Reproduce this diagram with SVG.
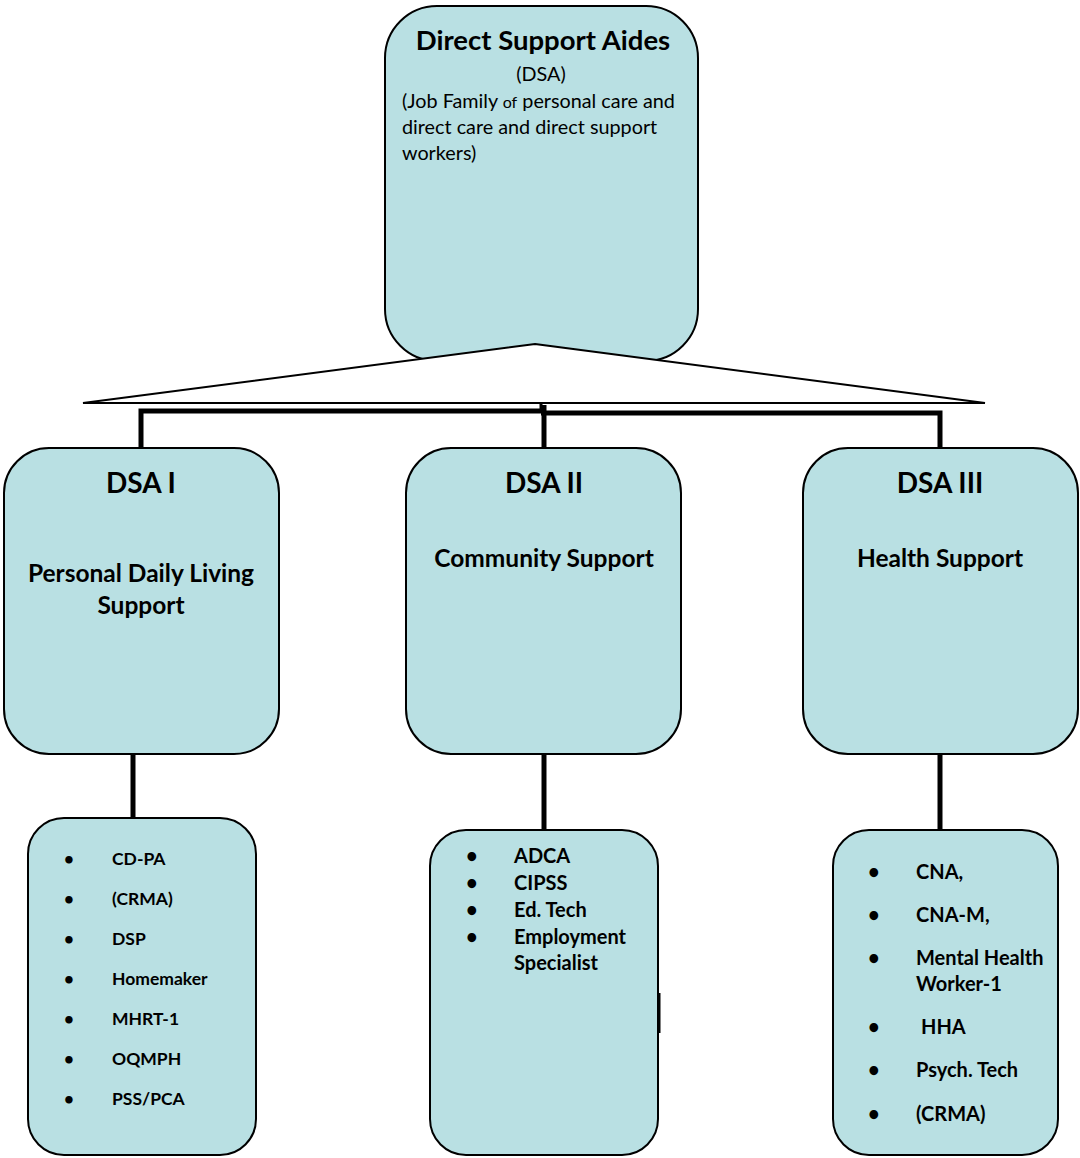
<svg xmlns="http://www.w3.org/2000/svg" width="1080" height="1158" viewBox="0 0 1080 1158">
<style>
.box{fill:#b9e0e3;stroke:#000;stroke-width:2}
.conn{stroke:#000;stroke-width:5;fill:none}
text{font-family:Lato,"Open Sans","Liberation Sans",sans-serif;fill:#000}
.t1{font-size:27.5px;font-weight:bold}
.t2{font-size:19.8px}
.h1{font-size:28px;font-weight:bold}
.h2{font-size:24.5px;font-weight:bold}
.l1{font-size:17.5px;font-weight:bold}
.l2{font-size:20px;font-weight:bold}
.b{font-size:17px}
.c{text-anchor:middle}
</style>
<rect width="1080" height="1158" fill="#fff"/>
<g id="top">
<rect class="box" x="385" y="6" width="313" height="355" rx="52"/>
<text class="t1 c" x="543" y="50">Direct Support Aides</text>
<text class="t2 c" x="541" y="81">(DSA)</text>
<text class="t2" x="402" y="108">(Job Family <tspan font-size="16">of</tspan> personal care and</text>
<text class="t2" x="402" y="134">direct care and direct support</text>
<text class="t2" x="402" y="160">workers)</text>
</g>
<g id="connectors">
<polygon points="535,344 985,403 83,403" fill="#fff" stroke="#000" stroke-width="2"/>
<line x1="541" y1="403" x2="541" y2="412" stroke="#000" stroke-width="3"/>
<polyline class="conn" points="141,448 141,411 543,411"/>
<polyline class="conn" points="541,413 940,413 940,448"/>
<line class="conn" x1="544" y1="405" x2="544" y2="448"/>
<line class="conn" x1="133" y1="754" x2="133" y2="818"/>
<line class="conn" x1="544" y1="754" x2="544" y2="830"/>
<line class="conn" x1="940" y1="754" x2="940" y2="830"/>
<line x1="659" y1="993" x2="659" y2="1033" stroke="#000" stroke-width="3"/>
</g>
<g id="dsa1">
<rect class="box" x="4" y="448" width="275" height="306" rx="45"/>
<text class="h1 c" x="141" y="493">DSA I</text>
<text class="h2 c" x="141" y="582">Personal Daily Living</text>
<text class="h2 c" x="141" y="614">Support</text>
</g>
<g id="dsa2">
<rect class="box" x="406" y="448" width="275" height="306" rx="45"/>
<text class="h1 c" x="544" y="493">DSA II</text>
<text class="h2 c" x="544" y="567">Community Support</text>
</g>
<g id="dsa3">
<rect class="box" x="803" y="448" width="275" height="306" rx="45"/>
<text class="h1 c" x="940" y="493">DSA III</text>
<text class="h2 c" x="940" y="567">Health Support</text>
</g>
<g id="list1">
<rect class="box" x="28" y="818" width="228" height="337" rx="36"/>
<g class="l1">
<text class="b" x="64" y="865">•</text><text x="112" y="865">CD-PA</text>
<text class="b" x="64" y="905">•</text><text x="112" y="905">(CRMA)</text>
<text class="b" x="64" y="945">•</text><text x="112" y="945">DSP</text>
<text class="b" x="64" y="985">•</text><text x="112" y="985">Homemaker</text>
<text class="b" x="64" y="1025">•</text><text x="112" y="1025">MHRT-1</text>
<text class="b" x="64" y="1065">•</text><text x="112" y="1065">OQMPH</text>
<text class="b" x="64" y="1105">•</text><text x="112" y="1105">PSS/PCA</text>
</g>
</g>
<g id="list2">
<rect class="box" x="430" y="830" width="228" height="325" rx="36"/>
<g class="l2">
<text x="466" y="863">•</text><text x="514" y="863">ADCA</text>
<text x="466" y="890">•</text><text x="514" y="890">CIPSS</text>
<text x="466" y="917">•</text><text x="514" y="917">Ed. Tech</text>
<text x="466" y="944">•</text><text x="514" y="944">Employment</text>
<text x="514" y="970">Specialist</text>
</g>
</g>
<g id="list3">
<rect class="box" x="833" y="830" width="225" height="325" rx="36"/>
<g class="l2">
<text x="868" y="879">•</text><text x="916" y="879">CNA,</text>
<text x="868" y="922">•</text><text x="916" y="922">CNA-M,</text>
<text x="868" y="965">•</text><text x="916" y="965">Mental Health</text>
<text x="916" y="991">Worker-1</text>
<text x="868" y="1034">•</text><text x="921" y="1034">HHA</text>
<text x="868" y="1077">•</text><text x="916" y="1077">Psych. Tech</text>
<text x="868" y="1121">•</text><text x="916" y="1121">(CRMA)</text>
</g>
</g>
</svg>
